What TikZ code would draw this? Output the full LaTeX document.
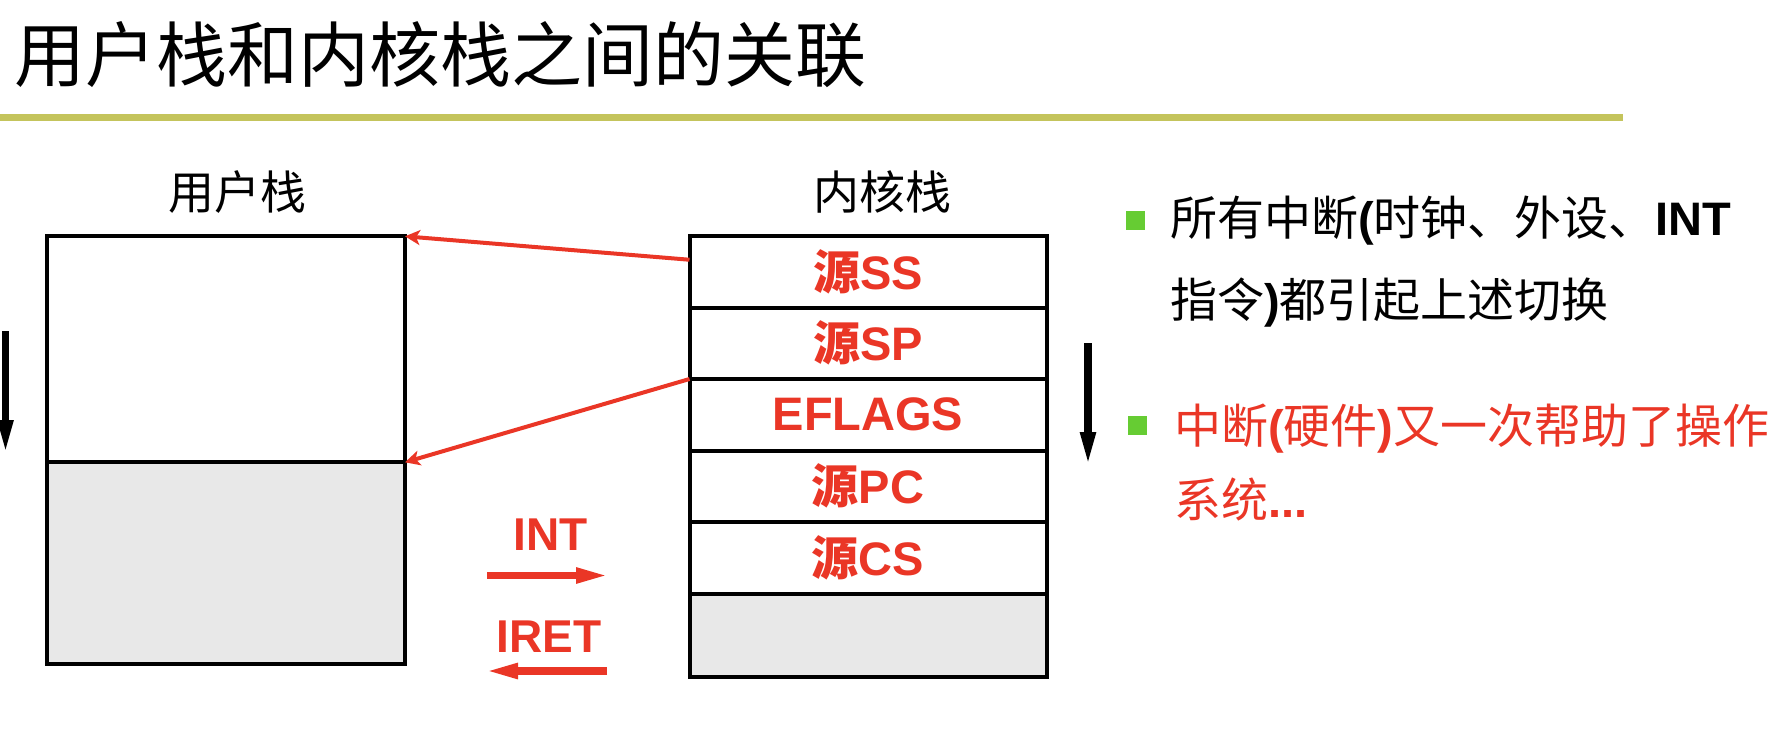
\documentclass[tikz,border=0pt]{standalone}
\usepackage{fontspec}
\setmainfont{Liberation Sans}
\newfontfamily\zh{Noto Sans CJK SC}
\usetikzlibrary{arrows.meta}
\definecolor{myred}{RGB}{234,54,38}
\definecolor{rule}{RGB}{196,196,92}
\definecolor{bgreen}{RGB}{102,204,51}
\definecolor{lgray}{RGB}{232,232,232}
\tikzset{
  box/.style={draw=black,line width=4pt,minimum width=357pt,inner sep=0pt,outer sep=0pt},
  urow/.style={box,minimum width=358pt},
  krow/.style={box,fill=white,minimum height=71.5pt,text=myred,font=\fontsize{47}{56}\selectfont\bfseries},
  lbl/.style={inner sep=0pt,font=\fontsize{46}{50}\selectfont\zh},
  redarrow/.style={draw=myred,line width=4pt,-{Stealth[length=15pt,width=15pt,inset=4pt]}},
  blackarrow/.style={draw=black,line width=7.5pt,-{Triangle[length=35pt,width=14pt]}},
  fatred/.style={draw=myred,line width=7.5pt,-{Triangle[length=34pt,width=14pt]}},
  optext/.style={inner sep=0pt,text=myred,font=\fontsize{46}{52}\selectfont\bfseries},
  bullet/.style={fill=bgreen,minimum size=19pt,inner sep=0pt},
  btext/.style={anchor=base west,inner sep=0pt,font=\fontsize{47}{56}\selectfont}
}
\begin{document}
\begin{tikzpicture}[x=1pt,y=-1pt]
\useasboundingbox (0,0) rectangle (1790,746);
% title
\node[anchor=base west,inner sep=0pt,font=\fontsize{71}{80}\selectfont\zh] (title) at (14,82) {用户栈和内核栈之间的关联};
\coordinate (r1) at (0,117.6);
\coordinate (r2) at (1623,117.6);
\draw[rule,line width=7pt] (r1) -- (r2);
% labels
\node[lbl] (ulbl) at (237,192) {用户栈};
\node[lbl] (klbl) at (882,192) {内核栈};
% user stack
\node[urow,fill=white,minimum height=226pt] (uhigh) at (226,349.3) {};
\node[urow,fill=lgray,minimum height=202pt] (ulow) at (226,563.4) {};
% kernel stack
\node[krow] (ss) at (868,271.75) {{\zh 源}SS};
\node[krow] (sp) at (868,343.25) {{\zh 源}SP};
\node[krow] (ef) at (868,414.75) {EFLAGS};
\node[krow] (pc) at (868,486.25) {{\zh 源}PC};
\node[krow] (cs) at (868,557.75) {{\zh 源}CS};
\node[box,fill=lgray,minimum height=83.5pt] (kfree) at (868,635.25) {};
% red connectors
\coordinate (a1) at ([yshift=12pt]ss.west);
\draw[redarrow] (a1) -- (uhigh.north east);
\draw[redarrow] (sp.south west) -- (uhigh.south east);
% black growth arrows
\coordinate (l1) at (5.5,331);
\coordinate (l2) at (5.5,455);
\draw[blackarrow] (l1) -- (l2);
\coordinate (m1) at (1088,343);
\coordinate (m2) at (1088,467);
\draw[blackarrow] (m1) -- (m2);
% INT / IRET
\node[optext] (int) at (551,535) {INT};
\coordinate (i1) at (487,575.5);
\coordinate (i2) at (610,575.5);
\draw[fatred] (i1) -- (i2);
\node[optext] (iret) at (549,637) {IRET};
\coordinate (j1) at (607,671);
\coordinate (j2) at (484,671);
\draw[fatred] (j1) -- (j2);
% bullets
\node[bullet] (b1) at (1135,220) {};
\node[btext] (t1a) at (1170,235) {{\zh 所有中断}\textbf{(}{\zh 时钟、外设、}\textbf{INT}};
\node[btext] (t1b) at (1170,317) {{\zh 指令}\textbf{)}{\zh 都引起上述切换}};
\node[bullet] (b2) at (1137,425) {};
\node[btext,text=myred] (t2a) at (1174,443) {{\zh 中断}\textbf{(}{\zh 硬件}\textbf{)}{\zh 又一次帮助了操作}};
\node[btext,text=myred] (t2b) at (1174,517) {{\zh 系统}\textbf{...}};
\end{tikzpicture}
\end{document}
